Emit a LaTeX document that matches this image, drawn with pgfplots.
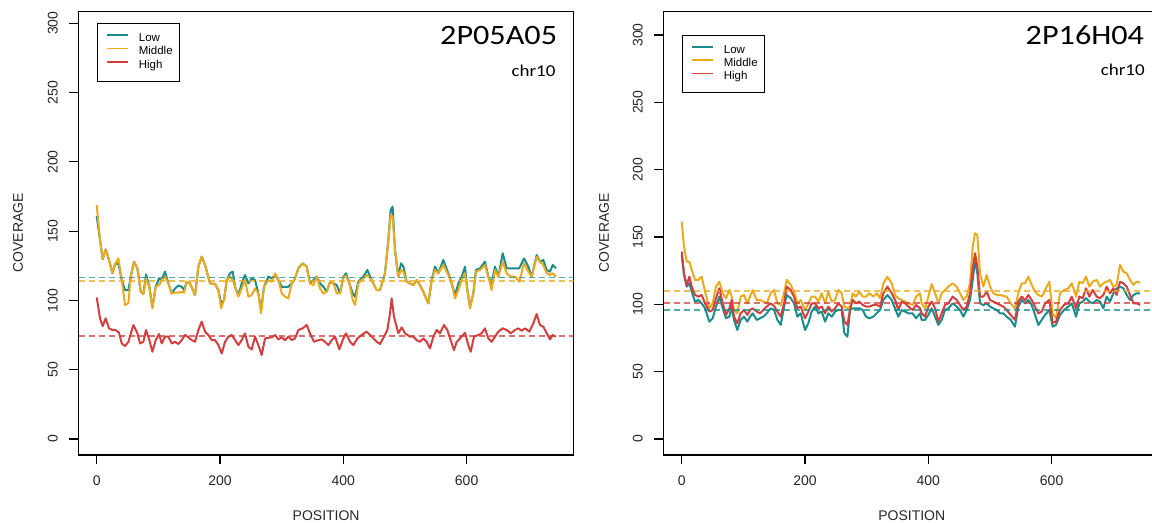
\documentclass[border=0pt]{standalone}
\usepackage{fontspec}
\setmainfont{Liberation Sans}
\newfontfamily\calibri{Carlito}
\usepackage{pgfplots}
\usepackage{pgfplotstable}
\pgfplotsset{compat=1.18}
\definecolor{cLow}{RGB}{27,140,140}
\definecolor{cMid}{RGB}{235,170,30}
\definecolor{cHigh}{RGB}{212,62,62}

\pgfplotstableread{
x L M
0 160.9 168.9
5.4 143.6 143.6
9.7 129.7 129.7
14.6 136.9 136.9
20 129.2 129.2
25.4 119.6 119.6
29.7 126.1 126.1
35.1 126.8 130.4
40.6 114.7 114.7
46 107.5 96.7
51.4 107.5 98.0
55.2 117.2 117.2
60.6 128.0 128.0
66 123.2 123.2
71.4 106.3 106.3
75.7 104.6 104.6
80 118.8 115.9
85.4 109.9 109.9
90.3 95.0 94.3
95.7 109.9 109.9
101.1 115.9 111.1
105.4 114.7 114.7
110.8 120.8 117.2
116.3 112.3 112.3
121.7 105.1 105.1
127.1 108.7 105.6
132.5 110.7 105.6
137.9 109.9 106.3
141.7 107.5 105.6
146 113.5 113.5
151.4 112.3 112.3
159.5 103.9 103.9
164.9 124.4 124.4
170.3 131.6 131.6
175.7 125.6 125.6
183.8 112.3 112.3
191.9 111.9 111.9
197.4 107.5 107.5
201.7 97.9 94.3
206.5 100.3 100.3
210.9 114.7 114.7
216.3 119.6 117.2
220.6 120.8 114.7
224.4 109.9 109.9
229.8 103.9 102.7
235.2 112.3 108.7
240.6 118.4 114.7
246 112.3 102.7
251.4 115.9 103.9
256.8 114.7 108.7
262.2 105.1 105.1
266.6 93.1 90.7
271.4 109.9 109.9
278.5 117.2 114.7
283.9 115.9 113.5
289.3 118.4 119.6
294.7 114.7 114.7
300.1 109.9 105.1
305.5 109.9 102.7
310.9 109.9 101.5
316.3 112.3 112.3
321.7 115.9 115.9
327.1 123.2 123.2
334.1 126.8 126.8
340.6 124.4 124.4
346 112.3 112.3
351.5 114.7 111.1
356.9 117.2 117.2
362.3 112.3 108.7
367.7 109.9 105.1
373.1 106.3 106.3
378.5 113.5 113.5
383.9 112.3 112.3
389.3 111.1 105.1
394.7 105.1 105.1
400.1 117.2 117.2
404.4 119.6 117.6
409.9 112.3 112.3
415.3 105.1 100.3
419 102.7 96.7
424.4 113.5 112.3
432.5 117.2 115.9
439 122.0 118.4
446 114.7 114.7
454.1 107.5 107.5
459.5 107.5 107.5
467.6 119.6 119.6
473 143.6 143.6
476.8 165.3 161.7
480 167.7 160.4
483.8 136.4 136.4
489.2 117.2 117.2
493.6 126.8 122.0
497.4 124.4 120.8
502.8 113.5 113.5
508.2 112.3 112.3
513.6 111.1 111.1
519 114.7 114.7
524.4 111.1 111.1
529.8 106.3 106.3
537.9 97.9 97.9
543.3 114.7 114.7
548.7 124.4 122.0
554.1 119.6 119.6
562.2 129.2 125.6
570.3 119.6 118.4
575.8 112.3 112.3
581.2 103.9 101.5
586.6 112.3 107.5
592 117.2 114.7
597.4 124.4 119.6
601.2 107.5 107.5
605.5 95.5 94.3
610.9 105.1 105.1
615.2 122.0 120.8
621.7 123.2 122.0
629.8 128.0 125.6
635.2 117.2 117.2
640.6 112.3 107.5
646 124.4 122.0
651.5 117.2 117.2
658.5 134.0 128.0
665 123.2 119.6
671.5 123.2 117.2
678.5 123.2 117.2
685.5 123.2 113.5
693.1 130.4 126.8
700.1 124.4 120.8
705.5 117.2 117.2
713.6 132.8 131.6
719 128.0 128.0
724.4 129.2 125.6
729.9 122.0 119.6
735.3 120.8 118.4
739.6 125.6 119.6
745 123.2 117.2
}\leftLM

\pgfplotstableread{
x H
0 102.2
5.4 87.1
9.7 81.5
14.6 87.1
20 79.9
25.4 78.7
30.8 78.7
36.2 76.7
40.6 69.0
46 67.1
51.4 70.2
59.5 82.3
66 76.3
70.3 69.0
75.7 70.2
80 78.7
85.4 71.4
90.3 63.0
95.7 71.4
101.1 75.8
105.4 69.0
110.8 73.9
116.3 73.9
121.7 69.0
127.1 70.2
132.5 68.6
137.9 71.4
143.3 75.1
148.7 73.4
154.1 71.4
159.5 70.2
164.9 78.7
170.3 84.7
175.7 77.5
181.1 75.1
186.5 71.4
191.9 71.4
197.4 67.8
202.8 61.8
208.2 70.2
213.6 73.9
219 75.1
224.4 71.4
229.8 67.8
235.2 71.4
240.6 76.3
246 66.6
251.4 64.7
256.8 73.9
262.2 67.8
267.6 60.6
273 72.6
278.5 73.1
283.9 73.4
289.3 75.1
294.7 71.9
300.1 73.4
305.5 71.4
310.9 73.9
316.3 71.4
321.7 72.6
327.1 78.7
334.1 79.9
340.6 82.3
346 76.3
352.5 70.2
359.6 71.4
365 71.9
370.4 70.2
375.8 67.8
381.2 71.4
386.6 73.9
393.6 64.7
399 71.4
404.4 76.3
411 70.2
416.3 67.8
422.8 72.6
429.8 75.1
437.9 77.5
446 73.9
454.1 70.2
459.5 68.6
466 73.9
471.4 78.7
475.7 90.7
478.4 101.5
482.2 88.4
489.2 76.3
494.7 80.6
500.1 76.3
508.2 73.9
513.6 73.9
519 71.4
524.4 70.2
529.8 72.6
535.2 70.2
540.6 65.4
546 73.9
551.4 78.7
556.8 76.3
563.3 82.3
568.7 78.7
574.1 71.4
579.5 64.2
583.9 70.2
592 73.9
597.4 76.7
602.8 67.8
606.6 63.0
612 73.9
619 75.1
624.4 76.3
629.8 79.9
635.2 72.6
640.6 70.2
646 73.9
651.5 77.5
658.5 79.9
665 78.7
671.5 76.3
678.5 78.7
683.9 79.9
689.3 78.2
694.7 79.9
701.7 77.5
708.2 83.5
713.6 90.2
719 82.3
724.4 81.1
729.9 76.3
735.3 71.9
739.6 75.1
745 73.9
}\leftH

\pgfplotstableread{
x M H L
0 161.4 139.1 136.6
3.7 142.8 123.0 121.8
8.1 131.7 114.4 113.1
12.4 131.7 120.5 115.6
16.2 125.5 113.1 109.4
21.6 118.1 106.9 102.0
27 118.1 105.7 103.2
32.4 120.5 106.9 100.7
37.8 109.4 100.7 97.0
44.8 97.0 94.6 87.1
50.2 100.7 95.8 89.6
55.6 113.1 104.5 98.3
61 116.8 111.9 105.7
66.5 108.2 100.7 97.0
71.9 104.5 92.1 89.6
77.3 110.6 97.0 90.8
81.1 105.7 103.2 98.3
84.8 95.8 90.8 88.4
90.2 93.3 85.9 80.9
95.6 105.7 93.3 88.4
101.1 106.9 95.8 90.8
106.5 100.7 92.1 87.1
110.8 105.7 95.8 90.8
115.1 110.6 97.0 93.3
121.6 103.2 94.6 88.4
127 103.2 93.3 89.6
132.4 102.0 95.8 90.8
137.8 100.7 98.3 93.3
144.3 108.2 100.7 97.0
149.7 110.6 98.8 95.8
155.2 100.7 94.6 88.4
160.6 99.5 90.8 84.7
166 108.2 100.7 98.3
170.3 118.1 113.1 106.9
176.8 114.4 110.6 104.5
182.2 109.4 105.7 100.7
187.6 100.7 97.0 90.8
193 103.2 98.3 93.3
200 95.8 89.6 80.9
205.4 100.7 94.6 85.9
210.8 105.7 100.7 94.6
216.3 105.7 100.7 98.3
221.7 102.0 97.0 93.3
227.1 108.2 98.3 94.6
232.5 100.7 93.3 87.1
237.9 109.4 98.3 93.3
243.3 102.0 94.6 90.8
248.7 103.2 97.0 94.6
254.1 110.6 100.7 95.8
259.5 108.2 98.3 95.8
263.8 98.3 87.1 78.5
268.7 97.0 84.7 76.0
273 98.3 95.8 95.8
277.3 108.2 103.2 97.0
282.7 105.7 100.7 97.0
288.1 109.4 102.0 97.0
293.6 105.7 99.5 95.8
299 105.7 98.3 90.8
304.4 108.2 98.3 89.6
310.9 105.7 99.5 90.8
316.3 108.2 99.5 93.3
321.7 104.5 98.3 95.8
327.1 115.6 108.2 103.2
333.6 120.5 113.1 106.9
340.6 115.6 108.2 103.2
346 106.9 103.2 97.0
351.4 104.5 95.8 90.8
356.8 103.2 102.0 95.8
362.2 102.0 100.7 94.6
367.6 100.7 98.3 93.3
374.6 99.5 95.8 93.3
380 105.7 99.5 89.6
386.5 108.2 97.0 93.3
389.2 100.7 93.3 88.4
394.7 97.0 90.8 88.4
400.1 105.7 98.3 92.1
405.5 115.1 102.0 97.0
410.9 108.2 97.0 90.8
416.3 100.7 87.1 84.7
421.7 108.2 93.3 88.4
427.1 110.6 99.5 95.8
432.5 113.1 100.7 97.0
439.5 115.6 105.7 100.7
446 113.1 103.2 98.3
451.4 108.2 99.5 95.8
456.8 103.2 95.8 90.8
462.2 105.7 98.3 95.8
467.6 115.6 108.2 103.2
472 142.8 126.7 118.1
475.8 152.7 137.9 132.9
479.5 151.5 128.0 123.0
483.9 123.0 105.7 100.7
489.3 113.1 105.7 99.5
494.7 121.8 109.4 100.7
500.1 113.1 103.2 98.3
505.5 108.2 102.0 97.0
510.9 106.9 100.7 95.8
516.3 106.9 99.5 93.3
521.7 106.2 98.3 93.3
527.1 105.7 95.8 90.8
533.6 100.7 92.1 88.4
540.6 97.0 88.4 83.4
546 108.2 102.0 98.3
551.5 115.6 105.7 103.2
556.9 115.6 103.2 100.7
562.3 120.5 106.9 103.2
567.7 114.4 103.2 99.5
573.1 109.4 98.3 92.1
578.5 106.9 93.3 84.7
583.9 105.7 94.6 88.4
589.3 110.6 100.7 92.1
596.3 116.8 103.2 95.8
601.7 93.3 86.4 83.4
607.1 89.6 87.1 84.7
613.6 108.2 95.8 92.1
620.1 110.6 99.5 95.8
627.2 111.9 100.7 98.3
632.6 115.6 105.7 100.7
639.6 105.7 97.0 90.8
645 116.8 105.7 100.7
650.4 115.6 104.5 102.0
655.8 120.5 111.9 104.5
661.2 113.1 105.7 102.0
666.6 116.8 110.6 100.7
673.1 118.1 105.7 103.2
678.5 113.1 104.5 102.0
683.9 115.6 106.9 97.0
689.3 116.8 113.1 105.7
694.7 118.1 108.2 102.0
700.1 113.1 111.9 108.2
705.5 114.4 106.9 111.9
710.9 129.2 116.8 113.1
716.4 124.3 115.6 111.9
721.8 123.0 113.1 106.9
727.2 118.1 106.9 103.2
732.6 114.4 100.7 106.9
738 116.8 100.7 108.2
743.4 116.1 99.5 108.2
}\rightT

\pgfplotsset{
  panel/.style={
    scale only axis, width=371.1pt, height=332.8pt,
    xmin=-29.2, xmax=773.4,
    xtick={0,200,400,600}, ytick={0,50,100,150,200,250,300},
    xtick pos=bottom, ytick pos=left,
    tick align=outside, major tick length=7pt,
    axis line style={line width=0.9pt},
    every tick/.style={black, line width=0.9pt},
    tick label style={font=\fontsize{10.5}{12}\selectfont, text=black!85, /pgf/number format/assume math mode=true},
    xticklabel style={anchor=north, inner sep=0pt, yshift=-8.5pt},
    yticklabel style={xshift=-8.5pt, rotate=90, anchor=south, inner sep=0pt},
    legend style={at={(axis cs:0,300)}, anchor=north west, draw=black, line width=0.75pt,
      inner xsep=5pt, inner ysep=6.5pt, font=\fontsize{8.6}{10}\selectfont,
      cells={anchor=west}, row sep=0pt, column sep=7.7pt,
      nodes={inner sep=0pt, text height=6.8pt, text depth=3.2pt}},
    legend image code/.code={\path[draw=none,fill=none] (0pt,2pt) rectangle (18pt,4pt); \draw[#1,line width=1.1pt,fill=none] (2.5pt,3pt) -- (18pt,3pt);},
    every axis plot/.append style={line width=1.5pt, line join=round},
  },
  mean/.style={forget plot, line width=1.1pt, dash pattern=on 4.5pt off 3pt, opacity=0.75},
}

\begin{document}
\begin{tikzpicture}
\useasboundingbox (0,0) rectangle (864pt,392.25pt);
\clip (0,0) rectangle (864pt,392.25pt);
% Left panel
\begin{axis}[panel, at={(59.03pt,51pt)}, anchor=south west, ymin=-11.5, ymax=308.7]
\addplot[cLow] table[x=x,y=L] {\leftLM};
\addlegendentry{Low}
\addplot[cMid] table[x=x,y=M] {\leftLM};
\addlegendentry{Middle}
\addplot[cHigh] table[x=x,y=H] {\leftH};
\addlegendentry{High}
\addplot[cLow, mean] coordinates {(-29.2,116.4) (773.4,116.4)};
\addplot[cMid, mean] coordinates {(-29.2,114.0) (773.4,114.0)};
\addplot[cHigh, mean] coordinates {(-29.2,74.3) (773.4,74.3)};
\end{axis}
% Right panel
\begin{axis}[panel, at={(497.78pt,51pt)}, anchor=south west, ymin=-11.9, ymax=317.6]
\addplot[cLow] table[x=x,y=L] {\rightT};
\addlegendentry{Low}
\addplot[cMid] table[x=x,y=M] {\rightT};
\addlegendentry{Middle}
\addplot[cHigh] table[x=x,y=H] {\rightT};
\addlegendentry{High}
\addplot[cMid, mean] coordinates {(-29.2,109.9) (773.4,109.9)};
\addplot[cHigh, mean] coordinates {(-29.2,101.0) (773.4,101.0)};
\addplot[cLow, mean] coordinates {(-29.2,95.8) (773.4,95.8)};
\end{axis}
% Titles
\node[anchor=base east, inner sep=0pt] at (417.98pt,358.5pt) {\scalebox{1.15}[1]{\calibri\fontsize{21}{24}\selectfont 2P05A05}};
\node[anchor=base east, inner sep=0pt] at (416.78pt,334.7pt) {\scalebox{1.15}[1]{\calibri\fontsize{12.4}{14}\selectfont chr10}};
\node[anchor=base east, inner sep=0pt] at (858.2pt,358.5pt) {\scalebox{1.15}[1]{\calibri\fontsize{21}{24}\selectfont 2P16H04}};
\node[anchor=base east, inner sep=0pt] at (858.75pt,335.25pt) {\scalebox{1.15}[1]{\calibri\fontsize{12.4}{14}\selectfont chr10}};
% Axis labels
\node[rotate=90, inner sep=0pt, text=black!85, font=\fontsize{10.5}{12}\selectfont] at (13.5pt,217.5pt) {COVERAGE};
\node[rotate=90, inner sep=0pt, text=black!85, font=\fontsize{10.5}{12}\selectfont] at (453pt,217.5pt) {COVERAGE};
\node[inner sep=0pt, text=black!85, font=\fontsize{10.5}{12}\selectfont] at (244.6pt,5.25pt) {POSITION};
\node[inner sep=0pt, text=black!85, font=\fontsize{10.5}{12}\selectfont] at (683.8pt,5.25pt) {POSITION};
\end{tikzpicture}
\end{document}
